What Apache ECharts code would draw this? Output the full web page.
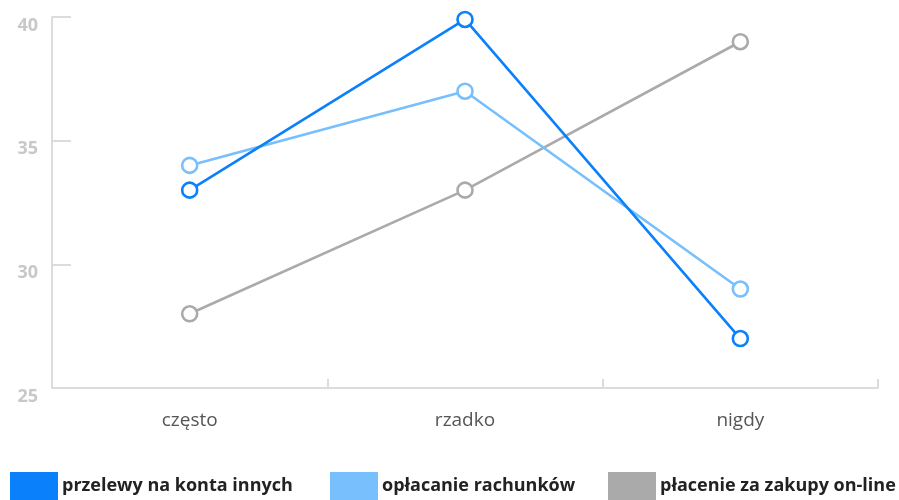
<!DOCTYPE html>
<html>
<head>
<meta charset="utf-8">
<script src="https://cdn.jsdelivr.net/npm/echarts@6/dist/echarts.min.js"></script>
<style>
  html, body { margin: 0; padding: 0; background: #fff; }
  #chart { width: 899px; height: 500px; }
</style>
</head>
<body>
<div id="chart"></div>
<script>
// Categories along the x axis
const categories = ['często', 'rzadko', 'nigdy'];

// Series values
const przelewy = [33, 39.9, 27];
const oplacanie = [34, 37, 29];
const placenie = [28, 33, 39];

const seriesNames = ['przelewy na konta innych', 'opłacanie rachunków', 'płacenie za zakupy on-line'];
const seriesColors = ['#0a80fb', '#77bffd', '#aaaaaa'];
const seriesData = [przelewy, oplacanie, placenie];

const chart = echarts.init(document.getElementById('chart'), null, { renderer: 'canvas' });

const fontFamily = '"Open Sans", "Noto Sans", sans-serif';

// Left offsets of the three legend entries
const legendLefts = [10, 330, 608];

const option = {
  animation: false,
  backgroundColor: '#fff',
  grid: { left: 52, right: 21, top: 17, bottom: 112, containLabel: false },
  xAxis: {
    type: 'category',
    data: categories,
    boundaryGap: true,
    axisLine: { lineStyle: { color: '#dcdcdc', width: 2 } },
    axisTick: { show: true, inside: true, length: 9, lineStyle: { color: '#dcdcdc', width: 2 } },
    axisLabel: { color: '#555', fontSize: 19, fontFamily: fontFamily, margin: 23 },
    splitLine: { show: false }
  },
  yAxis: {
    type: 'value',
    min: 25,
    max: 40,
    interval: 5,
    axisLine: { show: true, lineStyle: { color: '#dcdcdc', width: 2 } },
    axisTick: { show: true, inside: true, length: 19, lineStyle: { color: '#dcdcdc', width: 2 } },
    axisLabel: {
      color: '#c8c8c8', fontSize: 18, fontWeight: 'bold', fontFamily: fontFamily,
      margin: 14, verticalAlign: 'top', lineHeight: 17
    },
    splitLine: { show: false }
  },
  legend: legendLefts.map((left, i) => ({
    data: [seriesNames[i]],
    left: left,
    bottom: 0,
    padding: 0,
    icon: 'rect',
    itemWidth: 48,
    itemHeight: 28,
    itemGap: 0,
    selectedMode: false,
    itemStyle: { color: seriesColors[i], borderWidth: 0 },
    textStyle: { color: '#222', fontSize: 18, fontWeight: 'bold', fontFamily: fontFamily, padding: [2, 0, 0, -1] }
  })),
  series: seriesData.map((data, i) => ({
    name: seriesNames[i],
    type: 'line',
    data: data,
    color: seriesColors[i],
    symbol: 'circle',
    symbolSize: 15,
    showAllSymbol: true,
    lineStyle: { width: 2.6, color: seriesColors[i] },
    itemStyle: { color: '#fff', borderColor: seriesColors[i], borderWidth: 2.6 },
    z: 10 - i
  }))
};

chart.setOption(option);
</script>
</body>
</html>
